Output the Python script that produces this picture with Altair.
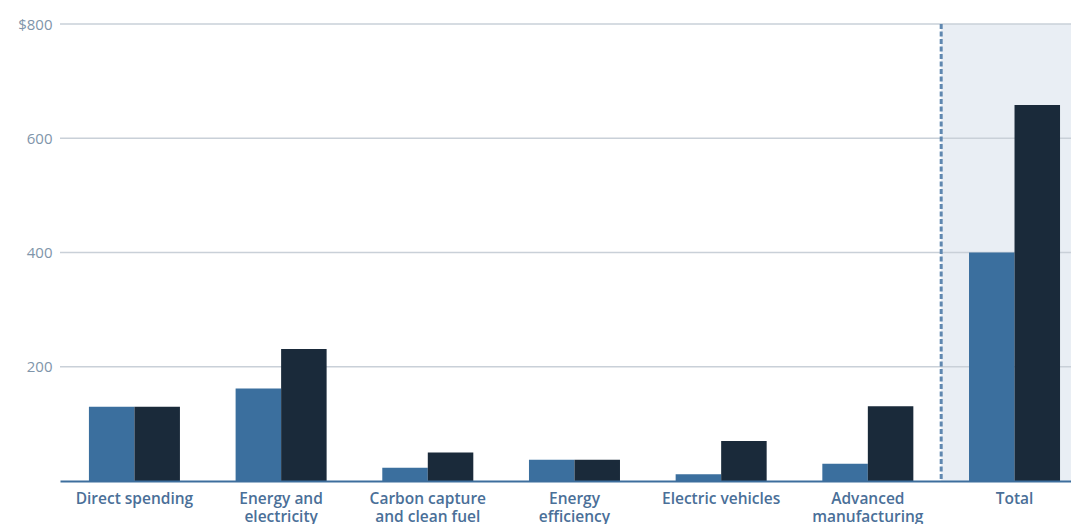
import altair as alt
import pandas as pd

categories = [
    "Direct spending",
    "Energy and|electricity",
    "Carbon capture|and clean fuel",
    "Energy|efficiency",
    "Electric vehicles",
    "Advanced|manufacturing",
    "Total",
]
series_names = ["Initial estimate", "Updated estimate"]
initial_values = [130, 162, 23, 37, 12, 30, 400]
updated_values = [130, 231, 50, 37, 70, 131, 658]
y_ticks = [0, 200, 400, 600, 800]
highlight_category = "Total"

colors = ["#3b6f9e", "#1a2a3a"]
FONT = "Open Sans"
W, H = 1011, 457
P_INNER, P_OUTER, ALIGN = 0.3795, 0.136, 0.725

rows = []
for cat, a, b in zip(categories, initial_values, updated_values):
    rows.append({"category": cat, "series": series_names[0], "value": a})
    rows.append({"category": cat, "series": series_names[1], "value": b})
df = pd.DataFrame(rows)

grid_df = pd.DataFrame({"v": [t for t in y_ticks if t > 0]})
hl_df = pd.DataFrame({"category": [highlight_category]})

x_scale = alt.Scale(paddingInner=P_INNER, paddingOuter=P_OUTER, align=ALIGN, round=False)
y_scale = alt.Scale(domain=[y_ticks[0], y_ticks[-1]], nice=False)

x_axis = alt.Axis(
    title=None,
    labelAngle=0,
    ticks=False,
    domainColor="#3d6e9d",
    domainWidth=2,
    labelColor="#4a6f98",
    labelFont=FONT,
    labelFontSize=15.5,
    labelFontWeight=600,
    labelExpr="split(datum.label, '|')",
    labelLineHeight=18,
    labelPadding=10,
    labelOverlap=False,
    labelLimit=300,
)
y_axis = alt.Axis(
    title=None,
    values=y_ticks,
    grid=False,
    domain=False,
    ticks=False,
    labelColor="#8095aa",
    labelFont=FONT,
    labelFontSize=15,
    labelPadding=8,
    labelExpr="datum.value == 0 ? '' : (datum.value == 800 ? '$800' : datum.label)",
)

# half of the gap between two bands, so the divider sits midway in the gap
step = W / (len(categories) - P_INNER + 2 * P_OUTER)
half_gap = step * P_INNER / 2

shade = alt.Chart(hl_df).mark_rect(color="#e9eef4", xOffset=-half_gap).encode(
    x=alt.X("category:N", sort=categories, scale=x_scale, axis=x_axis, bandPosition=0),
    x2=alt.value(W),
    y=alt.datum(y_ticks[-1], scale=y_scale, axis=y_axis),
    y2=alt.datum(y_ticks[0]),
)

grid = alt.Chart(grid_df).mark_rule(color="#c9d0d8", strokeWidth=1.5).encode(
    y=alt.Y("v:Q", scale=y_scale, axis=y_axis),
    x=alt.value(0),
    x2=alt.value(W),
)

bars = alt.Chart(df).mark_bar().encode(
    x=alt.X("category:N", sort=categories, scale=x_scale, axis=x_axis),
    xOffset=alt.XOffset(
        "series:N", sort=series_names, scale=alt.Scale(paddingInner=0, paddingOuter=0)
    ),
    y=alt.Y("value:Q", scale=y_scale, axis=y_axis),
    color=alt.Color(
        "series:N", sort=series_names,
        scale=alt.Scale(domain=series_names, range=colors), legend=None,
    ),
)

divider = alt.Chart(hl_df).mark_rule(
    color="#6088b0", strokeWidth=3, strokeDash=[5, 2.5], xOffset=-half_gap
).encode(
    x=alt.X("category:N", sort=categories, scale=x_scale, axis=x_axis, bandPosition=0),
    y=alt.datum(y_ticks[-1], scale=y_scale, axis=y_axis),
    y2=alt.datum(y_ticks[0]),
)

chart = (
    alt.layer(shade, grid, bars, divider)
    .properties(
        width=W,
        height=H,
        autosize=alt.AutoSizeParams(type="none"),
        padding={"left": 52, "top": 16, "right": 0, "bottom": 43},
        background="white",
    )
    .configure_view(strokeWidth=0)
)

chart.save("out.html", embed_options={"renderer": "svg", "actions": False})
